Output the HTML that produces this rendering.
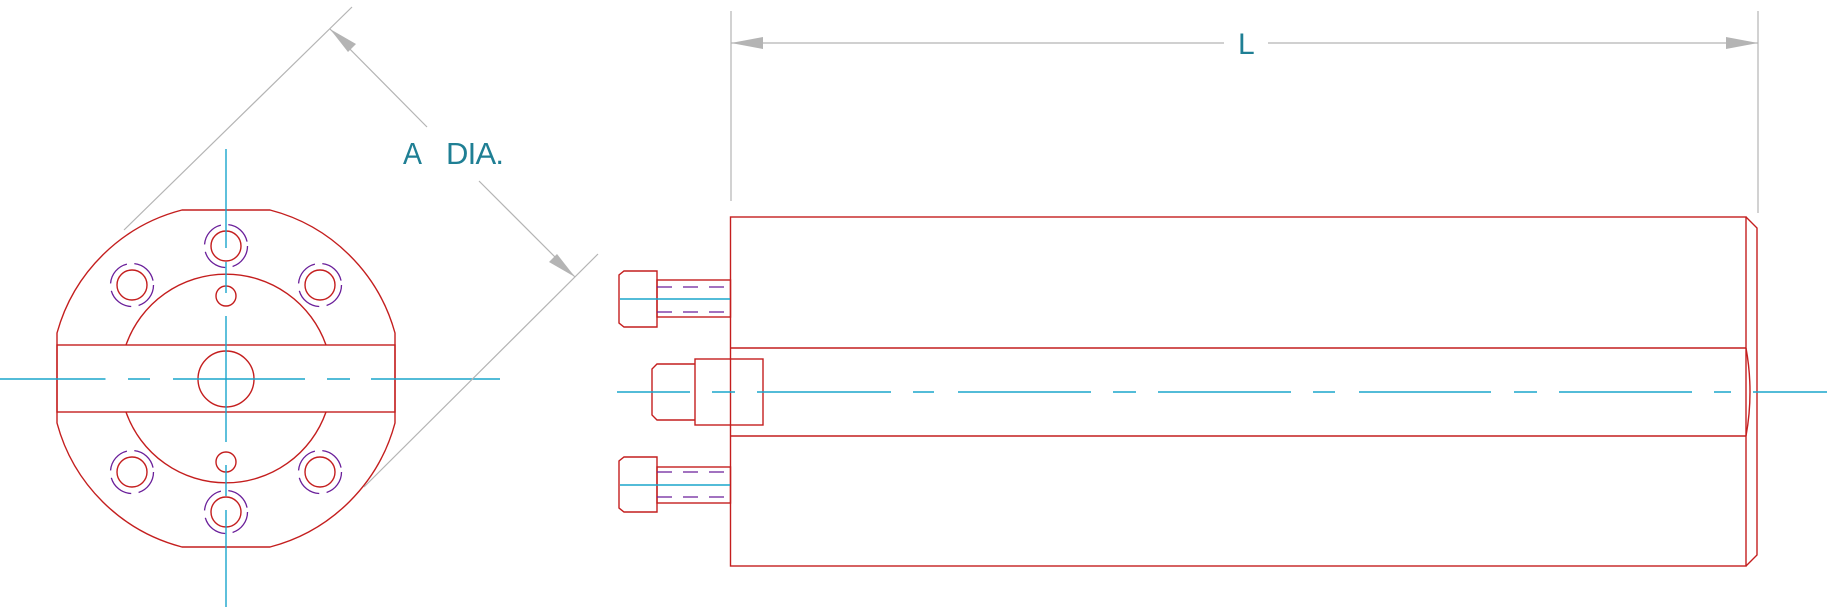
<!DOCTYPE html>
<html><head><meta charset="utf-8"><style>html,body{margin:0;padding:0;background:#fff}svg{display:block}</style></head>
<body>
<svg width="1836" height="616" viewBox="0 0 1836 616" xmlns="http://www.w3.org/2000/svg">
<g fill="none" stroke="#c41e1e" stroke-width="1.4">
 <path d="M182,210 L270,210 A175,175 0 0 1 395,333 L395,423 A175,175 0 0 1 270,547 L182,547 A175,175 0 0 1 57,423 L57,333 A175,175 0 0 1 182,210 Z"/>
 <rect x="57" y="345" width="338" height="67"/>
 <path d="M126,345 A106,106 0 0 1 326,345"/>
 <path d="M126,412 A106,106 0 0 0 326,412"/>
 <circle cx="226" cy="379" r="28"/>
 <circle cx="226" cy="296" r="10"/>
 <circle cx="226" cy="462" r="10"/>
 <circle cx="226" cy="246" r="15"/>
 <circle cx="132" cy="285" r="15"/>
 <circle cx="320" cy="285" r="15"/>
 <circle cx="132" cy="472" r="15"/>
 <circle cx="320" cy="472" r="15"/>
 <circle cx="226" cy="512" r="15"/>
 <rect x="730.5" y="217" width="1015.5" height="349"/>
 <line x1="730.5" y1="348" x2="1746" y2="348"/>
 <line x1="730.5" y1="436" x2="1746" y2="436"/>
 <path d="M1746,217 L1757,228 L1757,555 L1746,566"/>
 <path d="M1746,348 Q1754,392 1746,436"/>
 <rect x="695" y="359" width="68" height="66"/>
 <path d="M695,364 L657,364 L652,369 L652,415 L657,420 L695,420"/>
 <path d="M657,271 L624,271 L619,275 L619,323 L624,327 L657,327 Z"/>
 <rect x="657" y="280" width="73.5" height="37"/>
 <path d="M657,457 L624,457 L619,461 L619,508 L624,512 L657,512 Z"/>
 <rect x="657" y="467" width="73.5" height="36"/>
</g>
<g fill="none" stroke="#6a1f9a" stroke-width="1.3" stroke-dasharray="27 7.5">
 <circle cx="226" cy="246" r="21.5"/>
 <circle cx="132" cy="285" r="21.5"/>
 <circle cx="320" cy="285" r="21.5"/>
 <circle cx="132" cy="472" r="21.5"/>
 <circle cx="320" cy="472" r="21.5"/>
 <circle cx="226" cy="512" r="21.5"/>
</g>
<g stroke="#6a1f9a" stroke-width="1.3" stroke-dasharray="15 11">
 <line x1="657" y1="287" x2="730" y2="287"/>
 <line x1="657" y1="312" x2="730" y2="312"/>
 <line x1="657" y1="472" x2="730" y2="472"/>
 <line x1="657" y1="497" x2="730" y2="497"/>
</g>
<g stroke="#1aa6cc" stroke-width="1.4">
 <path d="M0,379H105.5 M128,379H150 M173,379H305 M327,379H350 M371,379H500"/>
 <path d="M226,149V248 M226,262V293 M226,316V442 M226,465V496 M226,510V607"/>
 <path d="M617,392H690 M712,392H735 M757,392H891 M913,392H934 M958,392H1091 M1113,392H1136 M1158,392H1291 M1313,392H1335 M1359,392H1491 M1514,392H1537 M1559,392H1692 M1714,392H1731 M1753,392H1827"/>
 <line x1="620" y1="299" x2="730" y2="299"/>
 <line x1="620" y1="485" x2="730" y2="485"/>
</g>
<g stroke="#b4b4b4" stroke-width="1.2" fill="none">
 <line x1="352" y1="7" x2="124" y2="230"/>
 <line x1="598" y1="254" x2="364" y2="487"/>
 <line x1="330" y1="29" x2="427" y2="127"/>
 <line x1="479" y1="181" x2="575" y2="277"/>
 <line x1="731" y1="11" x2="731" y2="201"/>
 <line x1="1758" y1="11" x2="1758" y2="213"/>
 <line x1="731" y1="43" x2="1224" y2="43"/>
 <line x1="1268" y1="43" x2="1758" y2="43"/>
</g>
<g fill="#b4b4b4">
 <polygon points="330,29 356,44 348,52"/>
 <polygon points="575,277 549,262 557,254"/>
 <polygon points="731,43 763,37 763,49"/>
 <polygon points="1758,43 1726,37 1726,49"/>
</g>
<g fill="#1f7f94" font-family="Liberation Sans, sans-serif" font-size="31">
 <text x="403" y="164" textLength="19" lengthAdjust="spacingAndGlyphs">A</text>
 <text x="446" y="164" textLength="58" lengthAdjust="spacing">DIA.</text>
 <text x="1238" y="54" font-size="30">L</text>
</g>
</svg>
</body></html>
